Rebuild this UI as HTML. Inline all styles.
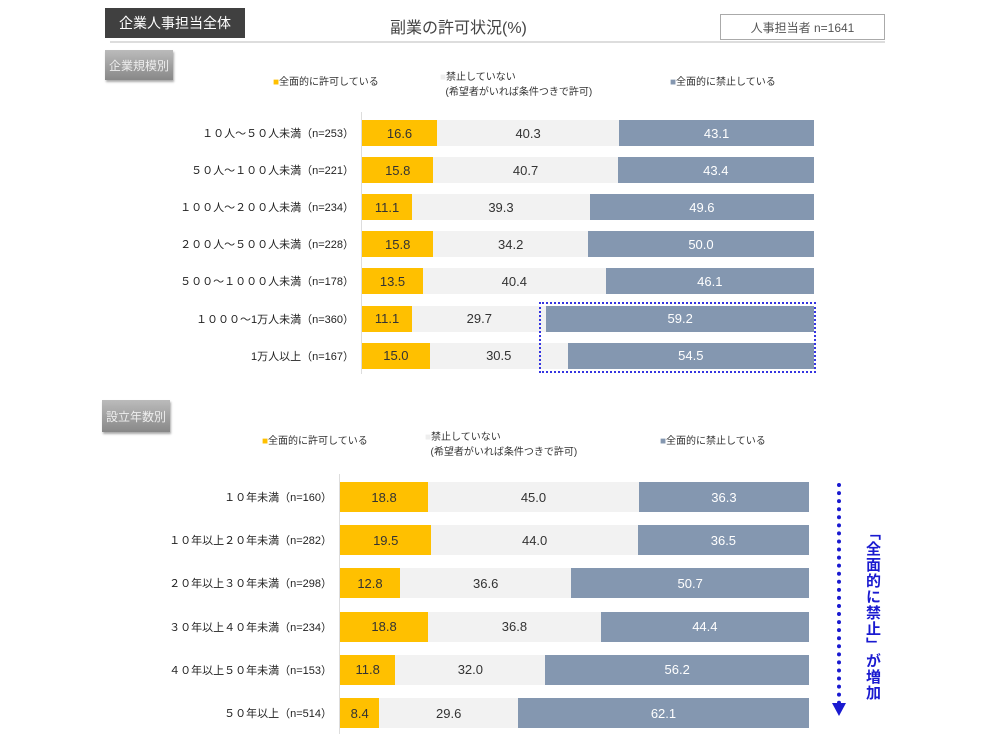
<!DOCTYPE html><html><head><meta charset="utf-8"><style>
body{margin:0;width:1000px;height:745px;background:#fff;font-family:"Liberation Sans","Noto Sans CJK JP",sans-serif;position:relative;overflow:hidden;color:#333}
.a{position:absolute}
.bar{position:absolute;display:flex}
.bar div{height:100%;display:flex;align-items:center;justify-content:center;font-size:13px}
.y{background:#FFC000;color:#333}.g{background:#F2F2F2;color:#333}.b{background:#8497B0;color:#fff}
.lab{position:absolute;font-size:11px;text-align:right;color:#222;white-space:nowrap}
.leg{position:absolute;font-size:10px;color:#333;white-space:nowrap}
.btn{position:absolute;background:linear-gradient(#bbb,#888);color:#eee;font-size:12px;display:flex;align-items:center;justify-content:center;box-shadow:1px 2px 2px #aaa}
</style></head><body>
<div class="a" style="left:105px;top:8px;width:140px;height:30px;background:#404040;color:#fff;font-size:14px;display:flex;align-items:center;justify-content:center">企業人事担当全体</div>
<div class="a" style="left:390px;top:14px;font-size:16px;color:#444">副業の許可状況(%)</div>
<div class="a" style="left:720px;top:14px;width:163px;height:24px;border:1px solid #aaa;font-size:12px;display:flex;align-items:center;justify-content:center;color:#555">人事担当者 n=1641</div>
<div class="a" style="left:110px;top:41px;width:775px;height:2px;background:#ddd"></div>
<div class="btn" style="left:105px;top:50px;width:68px;height:30px">企業規模別</div>
<div class="btn" style="left:102px;top:400px;width:68px;height:32px">設立年数別</div>
<div class="leg" style="left:273px;top:73px"><span style="color:#FFC000">■</span>全面的に許可している</div>
<div class="leg" style="left:440px;top:68px"><span style="color:#eee">■</span>禁止していない<br>&nbsp;&nbsp;(希望者がいれば条件つきで許可)</div>
<div class="leg" style="left:670px;top:73px"><span style="color:#8497B0">■</span>全面的に禁止している</div>
<div class="leg" style="left:262px;top:432px"><span style="color:#FFC000">■</span>全面的に許可している</div>
<div class="leg" style="left:425px;top:428px"><span style="color:#eee">■</span>禁止していない<br>&nbsp;&nbsp;(希望者がいれば条件つきで許可)</div>
<div class="leg" style="left:660px;top:432px"><span style="color:#8497B0">■</span>全面的に禁止している</div>
<div class="a" style="left:361px;top:112px;width:1px;height:262px;background:#ddd"></div>
<div class="a" style="left:339px;top:474px;width:1px;height:260px;background:#ddd"></div>
<div id="c"></div>
<div class="a" style="left:539px;top:302px;width:273px;height:67px;border:2px dotted #3535e0"></div>
<div class="a" style="left:837px;top:483px;width:0;height:222px;border-left:4px dotted #1a1ad0"></div>
<div class="a" style="left:832px;top:703px;width:0;height:0;border-left:7px solid transparent;border-right:7px solid transparent;border-top:13px solid #1a1ad0"></div>
<div class="a" style="left:862px;top:525px;writing-mode:vertical-rl;font-size:15px;font-weight:bold;color:#1a1ad0;letter-spacing:1px">「全面的に禁止」が増加</div>
<script>
const top1=[["１０人～５０人未満（n=253）",16.6,40.3,43.1],["５０人～１００人未満（n=221）",15.8,40.7,43.4],["１００人～２００人未満（n=234）",11.1,39.3,49.6],["２００人～５００人未満（n=228）",15.8,34.2,50.0],["５００～１０００人未満（n=178）",13.5,40.4,46.1],["１０００～1万人未満（n=360）",11.1,29.7,59.2],["1万人以上（n=167）",15.0,30.5,54.5]];
const bot=[["１０年未満（n=160）",18.8,45.0,36.3],["１０年以上２０年未満（n=282）",19.5,44.0,36.5],["２０年以上３０年未満（n=298）",12.8,36.6,50.7],["３０年以上４０年未満（n=234）",18.8,36.8,44.4],["４０年以上５０年未満（n=153）",11.8,32.0,56.2],["５０年以上（n=514）",8.4,29.6,62.1]];
let h="";
function draw(d,x0,w,y0,dy,bh){d.forEach((r,i)=>{const cy=y0+i*dy;const s=r[1]+r[2]+r[3];
h+=`<div class="lab" style="right:${1000-x0+8}px;top:${cy-8}px">${r[0]}</div><div class="bar" style="left:${x0}px;top:${cy-bh/2}px;width:${w}px;height:${bh}px">`;
[["y",1],["g",2],["b",3]].forEach(([c,k])=>{h+=`<div class="${c}" style="width:${r[k]/s*w}px">${r[k].toFixed(1)}</div>`});h+="</div>";});}
draw(top1,362,452,133,37.1,26);
draw(bot,340,469,497,43.2,30);
document.getElementById("c").innerHTML=h;
</script>
</body></html>
